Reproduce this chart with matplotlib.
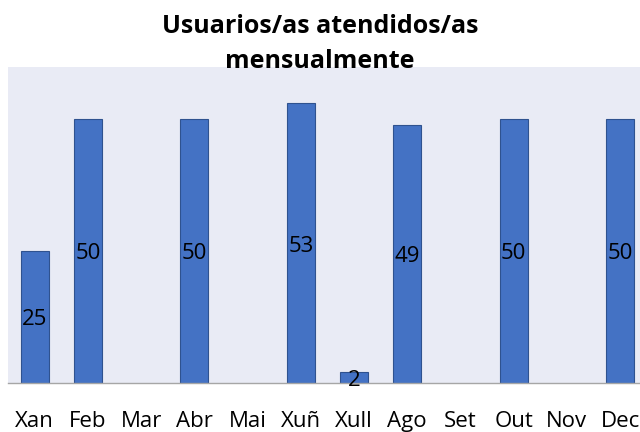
import numpy as np
import matplotlib.pyplot as plt

months = ["Xan", "Feb", "Mar", "Abr", "Mai", "Xuñ", "Xull", "Ago", "Set", "Out", "Nov", "Dec"]
users = [25, 50, 0, 50, 0, 53, 2, 49, 0, 50, 0, 50]
title_lines = ["Usuarios/as atendidos/as", "mensualmente"]

plt.rcParams["font.family"] = ["Open Sans", "DejaVu Sans"]

fig = plt.figure(figsize=(6.4, 4.32), dpi=100)
ax = fig.add_axes([0.01266, 0.1134, 0.9977, 0.7326])
ax.set_facecolor("#E9EBF5")

x = np.arange(len(months))
bars = ax.bar(x, users, width=0.53, color="#4472C4", edgecolor="#2F528F", linewidth=0.8, zorder=2)
# months without data: no visible edge line on the axis
for b, v in zip(bars, users):
    if v == 0:
        b.set_linewidth(0)

# value labels in the middle of each bar (empty months have none)
for xi, v in zip(x, users):
    if v > 0:
        ax.annotate(str(v), (xi, v / 2), xytext=(0, -2), textcoords="offset points",
                    ha="center", va="center", fontsize=16, color="black", zorder=3)

ax.set_xlim(-0.5, len(months) - 0.5)
ax.set_ylim(0, 60)
ax.set_xticks(x, labels=months)
ax.tick_params(axis="x", length=0, pad=20, labelsize=16)
ax.set_yticks([])
for side in ["top", "right", "left"]:
    ax.spines[side].set_visible(False)
ax.spines["bottom"].set_color("#A6A6A6")
ax.spines["bottom"].set_linewidth(1.0)

# title: two lines, second one reaches into the plot area
fig.text(0.5, 1 - 33 / 432, title_lines[0], ha="center", va="baseline",
         fontsize=18, fontweight="bold")
fig.text(0.5, 1 - 68 / 432, title_lines[1], ha="center", va="baseline",
         fontsize=18, fontweight="bold")

fig.savefig("out.png", dpi=100)
